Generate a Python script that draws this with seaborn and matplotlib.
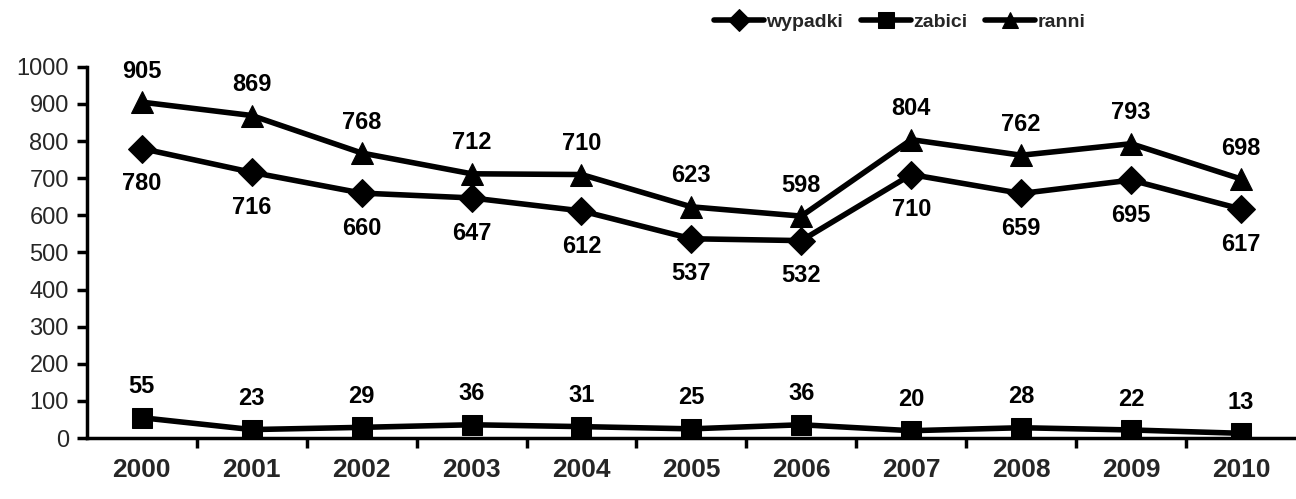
import matplotlib
matplotlib.use("Agg")
import matplotlib.pyplot as plt
import seaborn as sns
import pandas as pd
from matplotlib.ticker import FixedLocator

years = ["2000", "2001", "2002", "2003", "2004", "2005", "2006", "2007", "2008", "2009", "2010"]
wypadki = [780, 716, 660, 647, 612, 537, 532, 710, 659, 695, 617]
zabici = [55, 23, 29, 36, 31, 25, 36, 20, 28, 22, 13]
ranni = [905, 869, 768, 712, 710, 623, 598, 804, 762, 793, 698]

sns.set_theme(style="white")
plt.rcParams['font.family'] = ['Liberation Sans', 'DejaVu Sans']

fig = plt.figure(figsize=(12.96, 4.99), dpi=100)
ax = fig.add_axes([0.067, 0.122, 0.933, 0.744])

series = [("wypadki", wypadki, "D", 14, 17, "below"),
          ("zabici", zabici, "s", 15, 14, "above"),
          ("ranni", ranni, "^", 16, 14, "above")]

for name, vals, mk, ms, off, pos in series:
    df = pd.DataFrame({"rok": years, "v": vals})
    sns.lineplot(data=df, x="rok", y="v", ax=ax, color="black", linewidth=4,
                 marker=mk, markersize=ms, markeredgecolor="black", label=name,
                 sort=False)
    for i, v in enumerate(vals):
        dy = off if pos == "above" else -off
        ax.annotate(str(v), (i, v), xytext=(0, dy), textcoords="offset points",
                    ha="center", va="bottom" if pos == "above" else "top",
                    fontsize=17, fontweight="bold", color="black")

ax.set_xlim(-0.5, 10.5)
ax.set_ylim(0, 1000)
ax.set_yticks(range(0, 1001, 100))
ax.set_xlabel("")
ax.set_ylabel("")
ax.xaxis.set_minor_locator(FixedLocator([i + 0.5 for i in range(10)]))
ax.tick_params(axis="x", which="major", length=0, pad=14, labelsize=19)
ax.tick_params(axis="x", which="minor", length=7, width=2.5, color="black", direction="out", bottom=True)
ax.tick_params(axis="y", which="major", length=7, width=2.5, color="black", direction="out",
               left=True, labelsize=17, pad=6)
for lab in ax.get_xticklabels():
    lab.set_fontweight("bold")
for s in ["top", "right"]:
    ax.spines[s].set_visible(False)
for s in ["left", "bottom"]:
    ax.spines[s].set_color("black")
    ax.spines[s].set_linewidth(2.5)
ax.spines["bottom"].set_zorder(0)

leg = ax.legend(loc="center", bbox_to_anchor=(0.672, 1.12), ncol=3, frameon=False,
                handlelength=2.6, handletextpad=0.1, columnspacing=0.9,
                prop={"weight": "bold", "size": 14})
for h in leg.legend_handles:
    h.set_markersize(11)
    h.set_linewidth(4)

fig.savefig("out.png", dpi=100, facecolor="white")
